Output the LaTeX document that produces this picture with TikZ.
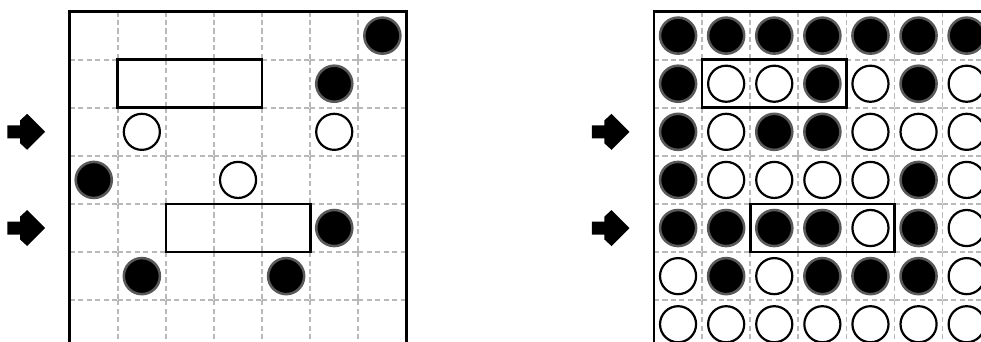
\documentclass[tikz,border=0pt]{standalone}
\usepackage{tikz}
\usetikzlibrary{calc}

\tikzset{
  gridline/.style={gray!55, line width=1pt, dash pattern=on 3pt off 2pt},
  gridframe/.style={black, line width=1.6pt},
  blockbox/.style={black, line width=1.6pt},
  blackstone/.style={fill=black, draw=black!65, line width=1.5pt},
  whitestone/.style={fill=white, draw=black, line width=1.3pt},
  rowarrow/.pic={
    \fill (0,0) -- (-0.374,0.374) -- (-0.52,0.239) -- (-0.52,0.135) -- (-0.784,0.135)
      -- (-0.784,-0.135) -- (-0.52,-0.135) -- (-0.52,-0.239) -- (-0.374,-0.374) -- cycle;
  }
}

\begin{document}
\begin{tikzpicture}
  \useasboundingbox (0,0) rectangle (20.395,7.110);
  \clip (0,0) rectangle (20.395,7.110);
  % left board
  \begin{scope}[shift={(1.449,6.869)}]
    \foreach \i in {0,...,6}
      \foreach \j in {0,...,6} {
        \draw[gridline] (\i,-\j) -- (\i+1,-\j);
        \draw[gridline] (\i,-\j) -- (\i,-\j-1);
      }
    \draw[gridframe] (0,-7.3) -- (0,0) -- (7,0) -- (7,-7.3);
    \draw[blockbox] (1,-1) rectangle (4,-2);
    \draw[blockbox] (2,-4) rectangle (5,-5);
    \foreach \c/\r in {6/0, 5/1, 0/3, 5/4, 1/5, 4/5}
      \draw[blackstone] (\c+0.5,-\r-0.5) circle (0.375);
    \foreach \c/\r in {1/2, 5/2, 3/3}
      \draw[whitestone] (\c+0.5,-\r-0.5) circle (0.375);
    \pic at (-0.51,-2.5) {rowarrow};
    \pic at (-0.51,-4.5) {rowarrow};
  \end{scope}
  % right board
  \begin{scope}[shift={(13.597,6.869)}]
    \foreach \i in {0,...,6}
      \foreach \j in {0,...,6} {
        \draw[gridline] (\i,-\j) -- (\i+1,-\j);
        \draw[gridline] (\i,-\j) -- (\i,-\j-1);
      }
    \draw[gridframe] (0,-7.3) -- (0,0) -- (7,0) -- (7,-7.3);
    \draw[blockbox] (1,-1) rectangle (4,-2);
    \draw[blockbox] (2,-4) rectangle (5,-5);
    \foreach \r/\cols in {0/{0,1,2,3,4,5,6}, 1/{0,3,5}, 2/{0,2,3}, 3/{0,5}, 4/{0,1,2,3,5}, 5/{1,3,4,5}}
      \foreach \c in \cols
        \draw[blackstone] (\c+0.5,-\r-0.5) circle (0.375);
    \foreach \r/\cols in {1/{1,2,4,6}, 2/{1,4,5,6}, 3/{1,2,3,4,6}, 4/{4,6}, 5/{0,2,6}, 6/{0,1,2,3,4,5,6}}
      \foreach \c in \cols
        \draw[whitestone] (\c+0.5,-\r-0.5) circle (0.375);
    \pic at (-0.51,-2.5) {rowarrow};
    \pic at (-0.51,-4.5) {rowarrow};
  \end{scope}
\end{tikzpicture}
\end{document}
